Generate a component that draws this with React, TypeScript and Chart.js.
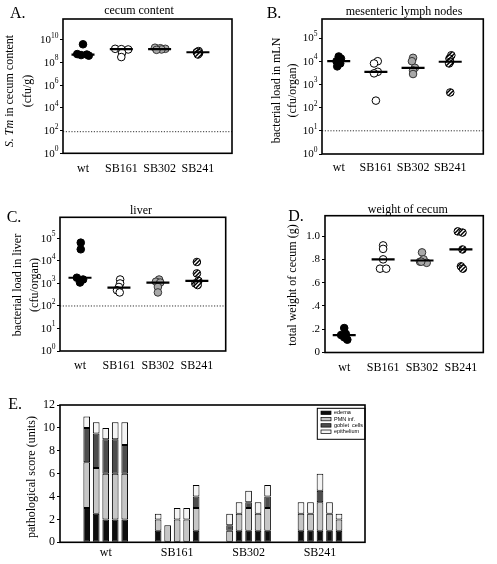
import React, { useEffect, useRef } from 'react';
import { Chart, registerables } from 'chart.js';

Chart.register(...registerables);

// ---------- data ----------
const groups = ['wt', 'SB161', 'SB302', 'SB241'];

// A. S. Tm in cecum content (cfu/g)
const cecumWt = [4e9, 5.5e8, 5e8, 4.5e8, 4e8];
const cecumSB161 = [1.6e9, 1.5e9, 1.4e9, 7e8, 3e8];
const cecumSB302 = [2e9, 1.8e9, 1.6e9, 1.4e9, 1.3e9];
const cecumSB241 = [1e9, 8e8, 6.5e8, 5e8];
const cecumMedian = [5e8, 1.5e9, 1.5e9, 8e8];
const cecumLimit = 80;
const cecumTicks = [1, 1e2, 1e4, 1e6, 1e8, 1e10];

// B. bacterial load in mLN (cfu/organ)
const mlnWt = [1.6e4, 1.3e4, 1e4, 8e3, 6e3];
const mlnSB161 = [1e4, 8e3, 3.5e3, 3e3, 2e2];
const mlnSB302 = [1.4e4, 1e4, 5.2e3, 4e3, 2.8e3];
const mlnSB241 = [1.8e4, 1.3e4, 9.5e3, 8e3, 4.5e2];
const mlnMedian = [1e4, 3.5e3, 5.2e3, 9.5e3];
const mlnLimit = 10;

// C. bacterial load in liver (cfu/organ)
const liverWt = [6.5e4, 3.3e4, 1.8e3, 1.5e3, 1.1e3];
const liverSB161 = [1.5e3, 1e3, 7e2, 5e2, 4e2];
const liverSB302 = [1.5e3, 1.2e3, 1.1e3, 7e2, 4e2];
const liverSB241 = [9e3, 2.8e3, 1.3e3, 1e3, 8.5e2];
const liverMedian = [1.8e3, 6.5e2, 1.1e3, 1.3e3];
const liverLimit = 100;

const decadeTicks = [1, 1e1, 1e2, 1e3, 1e4, 1e5];

// D. total weight of cecum (g)
const weightWt = [0.21, 0.16, 0.15, 0.13, 0.11];
const weightSB161 = [0.92, 0.89, 0.8, 0.72, 0.72];
const weightSB302 = [0.86, 0.8, 0.78, 0.77, 0.78];
const weightSB241 = [1.04, 1.03, 0.885, 0.74, 0.72];
const weightMedian = [0.15, 0.8, 0.79, 0.885];
const weightTicks = [0, 0.2, 0.4, 0.6, 0.8, 1.0];
const weightTickLabels = ['0', '.2', '.4', '.6', '.8', '1.0'];

// horizontal scatter of the dots (in group units)
const cecumJitter = [[0, -0.15, 0.1, -0.05, 0.15], [-0.16, 0, 0.18, 0.02, 0], [-0.12, 0.02, 0.15, 0.05, -0.08], [0.02, -0.03, 0.03, 0]];
const mlnJitter = [[0, 0.06, -0.06, 0.04, -0.04], [0.05, -0.05, 0.05, -0.05, 0], [0, -0.03, 0.05, 0, 0], [0.03, -0.02, 0, -0.03, 0]];
const liverJitter = [[0.02, 0.02, -0.08, 0.08, 0], [0.03, 0.03, 0, -0.05, 0.02], [0.03, -0.05, 0.06, 0, 0], [0, 0, 0.04, -0.04, 0.02]];
const weightJitter = [[0, 0.04, -0.08, 0, 0.08], [0, 0, 0, -0.08, 0.08], [0, 0.04, -0.05, 0.12, -0.02], [-0.08, 0.04, 0.04, 0, 0.05]];

// E. pathological score (units), per group, 5 mice each
const scoreLabels = ['edema', 'PMN inf.', 'goblet  cells', 'epithelium'];
const edema = [[3, 2.5, 2, 2, 2], [1, 0, 0, 0, 1], [0, 1, 1, 1, 1], [1, 1, 1, 1, 1]];
const pmn = [[4, 4, 4, 4, 4], [1, 1.5, 2, 2, 2], [1, 1.5, 2, 1.5, 2], [1.5, 1.5, 2.5, 1.5, 1]];
const goblet = [[3, 3, 3, 3, 2.5], [0, 0, 0, 0, 1], [0.5, 0, 0.5, 0, 1], [0, 0, 1, 0, 0]];
const epithelium = [[1, 1, 1, 1.5, 2], [0.5, 0, 1, 1, 1], [1, 1, 1, 1, 1], [1, 1, 1.5, 1, 0.5]];
const scoreTicks = [0, 2, 4, 6, 8, 10, 12];

// ---------- helpers ----------
const W = 497;
const H = 564;
const SERIF = '"Liberation Serif", "Times New Roman", serif';
const YW = 40;
const XH = 24;
const segColors = ['#0d0d0d', '#c6c6c6', '#4d4d4d', '#f4f4f4'];

type Seg = { t: string; i?: boolean };
type Panel = {
  area: { L: number; T: number; R: number; B: number };
  letter: string; lx: number; ly: number;
  title?: string; tx?: number; ty?: number;
  yTitle: Seg[][]; yxs: number[]; yc: number;
  limit?: number;
  powTicks?: number[];
};

function makeHatch(): CanvasPattern | string {
  const c = document.createElement('canvas');
  c.width = 4; c.height = 4;
  const g = c.getContext('2d');
  if (!g) return '#777';
  g.fillStyle = '#fff'; g.fillRect(0, 0, 4, 4);
  g.strokeStyle = '#000'; g.lineWidth = 1.5;
  g.beginPath();
  g.moveTo(-1, 5); g.lineTo(5, -1);
  g.moveTo(-1, 1); g.lineTo(1, -1);
  g.moveTo(3, 5); g.lineTo(5, 3);
  g.stroke();
  return g.createPattern(c, 'repeat') || '#777';
}

function decoPlugin(p: Panel) {
  return {
    id: 'deco',
    beforeDatasetsDraw(chart: any) {
      if (p.limit === undefined) return;
      const { ctx, chartArea: a } = chart;
      const y = chart.scales.y.getPixelForValue(p.limit);
      ctx.save();
      ctx.strokeStyle = '#333'; ctx.lineWidth = 1;
      ctx.setLineDash([1.2, 1.6]);
      ctx.beginPath(); ctx.moveTo(a.left, y); ctx.lineTo(a.right, y); ctx.stroke();
      ctx.restore();
    },
    afterDraw(chart: any) {
      const { ctx, chartArea: a } = chart;
      ctx.save();
      ctx.strokeStyle = '#000'; ctx.lineWidth = 1.6; ctx.setLineDash([]);
      ctx.strokeRect(a.left, a.top, a.right - a.left, a.bottom - a.top);
      ctx.fillStyle = '#000';
      ctx.textBaseline = 'alphabetic'; ctx.textAlign = 'left';
      ctx.font = `16px ${SERIF}`;
      ctx.fillText(p.letter, p.lx, p.ly);
      if (p.title) {
        ctx.font = `12px ${SERIF}`;
        ctx.textAlign = 'center';
        ctx.fillText(p.title, p.tx, p.ty);
      }
      // power-of-ten tick labels: "10" with a raised exponent
      if (p.powTicks) {
        const ys = chart.scales.y;
        ctx.textAlign = 'right';
        ctx.textBaseline = 'middle';
        p.powTicks.forEach((v) => {
          const y = ys.getPixelForValue(v);
          const e = String(Math.round(Math.log10(v)));
          const xr = a.left - 4.5;
          ctx.font = `7.5px ${SERIF}`;
          const ew = ctx.measureText(e).width;
          ctx.fillText(e, xr, y - 4);
          ctx.font = `11px ${SERIF}`;
          ctx.fillText('10', xr - ew, y + 0.5);
        });
      }
      p.yTitle.forEach((line, k) => {
        ctx.save();
        ctx.translate(p.yxs[k], p.yc);
        ctx.rotate(-Math.PI / 2);
        ctx.textBaseline = 'middle'; ctx.textAlign = 'left';
        const fonts = line.map((s) => `${s.i ? 'italic ' : ''}12px ${SERIF}`);
        const widths = line.map((s, m) => { ctx.font = fonts[m]; return ctx.measureText(s.t).width; });
        let x = -widths.reduce((u, v) => u + v, 0) / 2;
        line.forEach((s, m) => { ctx.font = fonts[m]; ctx.fillText(s.t, x, 0); x += widths[m]; });
        ctx.restore();
      });
      ctx.restore();
    },
  };
}

function padding(area: Panel['area']) {
  return { left: area.L - YW, top: area.T, right: W - area.R, bottom: H - area.B - XH };
}

function xScale(range: [number, number], pad: number, extra: any = {}) {
  return {
    type: 'linear', min: range[0], max: range[1], offset: false,
    afterBuildTicks: (s: any) => { s.ticks = groups.map((_, i) => ({ value: i + 1 })); },
    afterFit: (s: any) => { s.height = XH; },
    ticks: {
      callback: (v: number) => groups[Math.round(v) - 1] ?? '',
      font: { family: SERIF, size: 12 }, color: '#000', padding: pad, autoSkip: false, maxRotation: 0,
    },
    grid: { display: false, drawTicks: false },
    border: { display: false },
    ...extra,
  };
}

function yGrid() {
  return { display: true, drawOnChartArea: false, drawTicks: true, tickLength: 3, color: '#000', lineWidth: 1 };
}

function scatterConfig(p: Panel, series: number[][], median: number[], jitter: number[][], xr: [number, number], xpad: number, yScale: any, hatch: any) {
  const styles = [
    { bg: '#000', bd: '#000' },
    { bg: '#fff', bd: '#000' },
    { bg: '#a8a8a8', bd: '#333' },
    { bg: hatch, bd: '#000' },
  ];
  const datasets: any[] = [
    {
      data: median.map((v, i) => ({ x: i + 1, y: v })),
      pointStyle: 'line', pointRadius: 11.5, pointBorderWidth: 2.2,
      pointBorderColor: '#000', pointBackgroundColor: '#000',
    },
    ...series.map((vals, gi) => ({
      data: vals.map((v, j) => ({ x: gi + 1 + jitter[gi][j], y: v })),
      pointStyle: 'circle', pointRadius: 3.8, pointBorderWidth: 1,
      pointBackgroundColor: styles[gi].bg, pointBorderColor: styles[gi].bd,
    })),
  ];
  return {
    type: 'scatter',
    data: { datasets },
    options: {
      animation: false, responsive: false, devicePixelRatio: 1,
      layout: { padding: padding(p.area) },
      plugins: { legend: { display: false }, tooltip: { enabled: false } },
      events: [],
      scales: { x: xScale(xr, xpad), y: yScale },
    },
    plugins: [decoPlugin(p)],
  } as any;
}

function logY(max: number, ticks: number[]) {
  return {
    type: 'logarithmic', min: 1, max,
    afterBuildTicks: (s: any) => { s.ticks = ticks.map((v) => ({ value: v })); },
    afterFit: (s: any) => { s.width = YW; },
    ticks: {
      // labels are drawn by the deco plugin as 10 with a raised exponent
      callback: () => '',
      font: { family: SERIF, size: 10.5 }, color: '#000', padding: 2, autoSkip: false,
    },
    grid: yGrid(),
    border: { display: false },
  };
}

function barConfig(p: Panel) {
  const segs = [edema, pmn, goblet, epithelium];
  const datasets: any[] = [];
  segs.forEach((seg, s) => {
    for (let m = 0; m < 5; m++) {
      datasets.push({
        label: scoreLabels[s],
        stack: 'mouse' + m,
        data: groups.map((_, gi) => ({ x: gi + 1, y: seg[gi][m] })),
        backgroundColor: segColors[s], borderColor: '#000', borderWidth: 1,
        borderSkipped: false, categoryPercentage: 0.665, barPercentage: 0.7,
      });
    }
  });
  const legendPlugin = {
    id: 'scoreLegend',
    afterDraw(chart: any) {
      const { ctx, chartArea: a } = chart;
      const bx = a.right - 47.7, by = a.top + 3.3;
      ctx.save();
      ctx.strokeStyle = '#000'; ctx.lineWidth = 1;
      ctx.strokeRect(bx, by, 47.7, 31);
      scoreLabels.forEach((lab, k) => {
        const y = by + 4.4 + k * 6.3;
        ctx.fillStyle = segColors[k];
        ctx.fillRect(bx + 3.7, y - 1.6, 10, 3.4);
        ctx.lineWidth = 0.7;
        ctx.strokeRect(bx + 3.7, y - 1.6, 10, 3.4);
        ctx.fillStyle = '#000';
        ctx.font = '5.5px "Liberation Sans", Arial, sans-serif';
        ctx.textBaseline = 'middle'; ctx.textAlign = 'left';
        ctx.fillText(lab, bx + 16.7, y);
      });
      ctx.restore();
    },
  };
  return {
    type: 'bar',
    data: { datasets },
    options: {
      animation: false, responsive: false, devicePixelRatio: 1,
      layout: { padding: padding(p.area) },
      plugins: { legend: { display: false }, tooltip: { enabled: false } },
      events: [],
      scales: {
        x: xScale([0.36, 4.63], 3, { stacked: true }),
        y: {
          type: 'linear', min: 0, max: 12, stacked: true,
          afterBuildTicks: (s: any) => { s.ticks = scoreTicks.map((v) => ({ value: v })); },
          afterFit: (s: any) => { s.width = YW; },
          ticks: { font: { family: SERIF, size: 12 }, color: '#000', padding: 2, autoSkip: false },
          grid: yGrid(),
          border: { display: false },
        },
      },
    },
    plugins: [decoPlugin(p), legendPlugin],
  } as any;
}

const panelA: Panel = {
  area: { L: 63, T: 19, R: 232, B: 153.3 },
  letter: 'A.', lx: 10, ly: 18.3, title: 'cecum content', tx: 139, ty: 14.3,
  yTitle: [[{ t: 'S. Tm', i: true }, { t: ' in cecum content' }], [{ t: '(cfu/g)' }]], yxs: [10, 28], yc: 91,
  limit: cecumLimit, powTicks: cecumTicks,
};
const panelB: Panel = {
  area: { L: 322, T: 19, R: 495.5, B: 154 },
  letter: 'B.', lx: 266.7, ly: 18.3, title: 'mesenteric lymph nodes', tx: 404, ty: 15,
  yTitle: [[{ t: 'bacterial load in mLN' }], [{ t: '(cfu/organ)' }]], yxs: [276.7, 293.3], yc: 90.5,
  limit: mlnLimit, powTicks: decadeTicks,
};
const panelC: Panel = {
  area: { L: 60, T: 217.3, R: 225.7, B: 351 },
  letter: 'C.', lx: 6.7, ly: 221.7, title: 'liver', tx: 141, ty: 213.5,
  yTitle: [[{ t: 'bacterial load in liver' }], [{ t: '(cfu/organ)' }]], yxs: [18, 35], yc: 285,
  limit: liverLimit, powTicks: decadeTicks,
};
const panelD: Panel = {
  area: { L: 325, T: 215.7, R: 490, B: 352.5 },
  letter: 'D.', lx: 288.3, ly: 220.7, title: 'weight of cecum', tx: 407.8, ty: 213.3,
  yTitle: [[{ t: 'total weight of cecum (g)' }]], yxs: [293.3], yc: 285,
};
const panelE: Panel = {
  area: { L: 60, T: 405, R: 365, B: 542.3 },
  letter: 'E.', lx: 8.3, ly: 409.3,
  yTitle: [[{ t: 'pathological score (units)' }]], yxs: [31.7], yc: 477,
};

export default function App() {
  const refs = useRef<(HTMLCanvasElement | null)[]>([]);

  useEffect(() => {
    const hatch = makeHatch();
    const c = refs.current;
    const charts: Chart[] = [];
    charts.push(new Chart(c[0] as HTMLCanvasElement, scatterConfig(panelA,
      [cecumWt, cecumSB161, cecumSB302, cecumSB241], cecumMedian, cecumJitter, [0.478, 4.89], 8,
      logY(Math.pow(10, 11.83), cecumTicks), hatch)));
    charts.push(new Chart(c[1] as HTMLCanvasElement, scatterConfig(panelB,
      [mlnWt, mlnSB161, mlnSB302, mlnSB241], mlnMedian, mlnJitter, [0.55, 4.89], 7,
      logY(Math.pow(10, 5.82), decadeTicks), hatch)));
    charts.push(new Chart(c[2] as HTMLCanvasElement, scatterConfig(panelC,
      [liverWt, liverSB161, liverSB302, liverSB241], liverMedian, liverJitter, [0.487, 4.74], 8,
      logY(Math.pow(10, 5.94), decadeTicks), hatch)));
    charts.push(new Chart(c[3] as HTMLCanvasElement, scatterConfig(panelD,
      [weightWt, weightSB161, weightSB302, weightSB241], weightMedian, weightJitter, [0.506, 4.575], 8,
      {
        type: 'linear', min: 0, max: 1.175,
        afterBuildTicks: (s: any) => { s.ticks = weightTicks.map((v) => ({ value: v })); },
        afterFit: (s: any) => { s.width = YW; },
        ticks: {
          callback: (_v: number, i: number) => weightTickLabels[i],
          font: { family: SERIF, size: 11 }, color: '#000', padding: 2, autoSkip: false,
        },
        grid: yGrid(),
        border: { display: false },
      }, hatch)));
    charts.push(new Chart(c[4] as HTMLCanvasElement, barConfig(panelE)));
    return () => charts.forEach((ch) => ch.destroy());
  }, []);

  return (
    <div style={{ position: 'absolute', left: 0, top: 0, width: W, height: H, background: '#fff', overflow: 'hidden' }}>
      {[0, 1, 2, 3, 4].map((i) => (
        <canvas
          key={i}
          ref={(el) => { refs.current[i] = el; }}
          width={W}
          height={H}
          style={{ position: 'absolute', left: 0, top: 0 }}
        />
      ))}
    </div>
  );
}
